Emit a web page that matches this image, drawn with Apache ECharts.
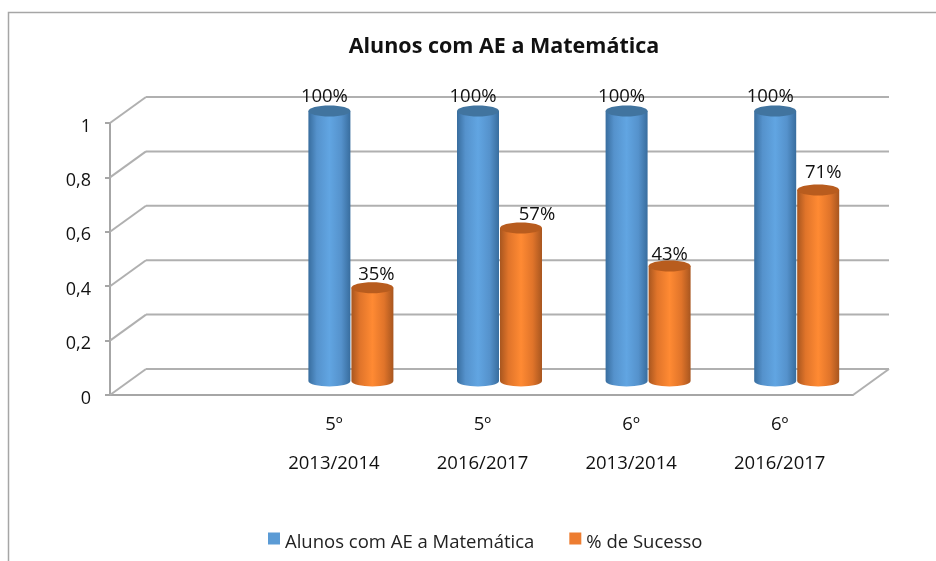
<!DOCTYPE html>
<html><head><meta charset="utf-8">
<style>html,body{margin:0;padding:0;background:#fff}#c{width:936px;height:561px}</style>
<script src="https://cdn.jsdelivr.net/npm/echarts@6/dist/echarts.min.js"></script>
</head><body><div id="c"></div>
<script>
var grades = ['', '5º', '5º', '6º', '6º'];
var years = ['', '2013/2014', '2016/2017', '2013/2014', '2016/2017'];
var alunos = [null, 1, 1, 1, 1];
var sucesso = [null, 0.35, 0.57, 0.43, 0.71];
var ticks = [0, 0.2, 0.4, 0.6, 0.8, 1];
var FONT = '"Open Sans", "Noto Sans", sans-serif';
var DEPTH = [36, -26], MID = [18, -12], HALF = 21.5, RY = 5.5;
var categories = grades.map(function (g, i) { return g ? g + '\n' + years[i] : ''; });
var alunosNudge = [null, [-5, -14], [-5, -14], [-5, -14], [-5, -14]];
var sucessoNudge = [null, [4, -13], [16, -13], [0, -11], [5, -17]];

function pairs(arr) {
  return arr.map(function (v, i) { return [i, v]; }).filter(function (d) { return d[1] !== null; });
}
function cylinder(side, dir, light, dark, top) {
  return function (params, api) {
    var i = api.value(0), v = api.value(1);
    var p = api.coord([i, v]), b = api.coord([i, 0]);
    var cx = p[0] + MID[0] + dir * HALF, w = HALF - 0.5;
    var yt = p[1] + MID[1], yb = b[1] + MID[1] - 2;
    var body = 'M' + (cx - w) + ' ' + yt + 'L' + (cx - w) + ' ' + yb +
      'C' + (cx - w) + ' ' + (yb + RY * 1.3) + ' ' + (cx + w) + ' ' + (yb + RY * 1.3) + ' ' + (cx + w) + ' ' + yb +
      'L' + (cx + w) + ' ' + yt + 'Z';
    return { type: 'group', children: [
      { type: 'path', shape: { pathData: body, layout: 'center',
          x: cx - w, y: yt, width: 2 * w, height: yb - yt + RY },
        style: { fill: { type: 'linear', x: 0, y: 0, x2: 1, y2: 0, colorStops: [
          { offset: 0, color: dark }, { offset: 0.2, color: side }, { offset: 0.5, color: light },
          { offset: 0.78, color: side }, { offset: 1, color: dark } ] } } },
      { type: 'ellipse', shape: { cx: cx, cy: yt, rx: w, ry: RY }, style: { fill: top } }
    ] };
  };
}
function labelFor(dir, nudges) {
  return function (params, api) {
    var i = api.value(0), v = api.value(1);
    var p = api.coord([i, v]), n = nudges[i];
    return { type: 'text', style: {
      x: p[0] + MID[0] + dir * HALF + n[0], y: p[1] + MID[1] + n[1],
      text: Math.round(v * 100) + '%', align: 'center', verticalAlign: 'middle',
      font: '18.5px ' + FONT, fill: '#111' } };
  };
}
function wallItem(params, api) {
  var v = api.value(0);
  var a = api.coord([0, v]), e = api.coord([categories.length - 1, v]);
  var half = api.size([1, 0])[0] / 2;
  var x0 = a[0] - half, x1 = e[0] + half, y = a[1];
  var line = { stroke: '#b0b0b0', lineWidth: 2 };
  var kids = [
    { type: 'line', shape: { x1: x0, y1: y, x2: x0 + DEPTH[0], y2: y + DEPTH[1] }, style: line },
    { type: 'line', shape: { x1: x0 + DEPTH[0], y1: y + DEPTH[1], x2: x1 + DEPTH[0], y2: y + DEPTH[1] }, style: line }
  ];
  if (v === 0) {
    kids.push({ type: 'line', shape: { x1: x1, y1: y, x2: x1 + DEPTH[0], y2: y + DEPTH[1] }, style: line });
  }
  return { type: 'group', children: kids };
}

var chart = echarts.init(document.getElementById('c'), null, { renderer: 'canvas' });
chart.setOption({
  animation: false,
  backgroundColor: '#fff',
  graphic: [{ type: 'rect', silent: true, z: -1,
    shape: { x: 8.5, y: 12.5, width: 1000, height: 700 },
    style: { fill: 'none', stroke: '#a6a6a6', lineWidth: 1.5 } }],
  title: { text: 'Alunos com AE a Matemática', left: 499, top: 31, textAlign: 'center',
    textStyle: { fontFamily: FONT, fontSize: 21.5, fontWeight: 'bold', color: '#111' } },
  legend: { bottom: 4, left: 263, itemWidth: 12, itemHeight: 12, itemGap: 35,
    icon: 'rect',
    formatter: function (n) { return '{a|' + n + '}'; },
    textStyle: { rich: { a: { fontFamily: FONT, fontSize: 18.5, color: '#222', padding: [8, 0, 0, 0] } } },
    data: [{ name: 'Alunos com AE a Matemática', itemStyle: { color: '#5b9bd5' } },
           { name: '% de Sucesso', itemStyle: { color: '#ed7d31' } }] },
  grid: { left: 110, top: 123, width: 743, height: 272 },
  xAxis: { type: 'category', data: categories,
    axisLine: { lineStyle: { color: '#a6a6a6', width: 2 } }, axisTick: { show: false },
    axisLabel: { interval: 0, margin: 10, fontFamily: FONT, fontSize: 18.5, color: '#111', lineHeight: 39, padding: [0, 0, 0, 2] } },
  yAxis: { type: 'value', min: 0, max: 1, interval: 0.2,
    axisLine: { show: true, lineStyle: { color: '#a6a6a6', width: 2 } },
    axisTick: { show: true, length: 5, lineStyle: { color: '#a6a6a6', width: 2 } },
    splitLine: { show: false },
    axisLabel: { margin: 19,
      formatter: function (v) { return '{a|' + String(v).replace('.', ',') + '}'; },
      rich: { a: { fontFamily: FONT, fontSize: 18, color: '#111', padding: [7, 0, 0, 0] } } } },
  series: [
    { type: 'custom', name: 'wall', z: 1, silent: true,
      encode: { y: 0 }, data: ticks.map(function (t) { return [t]; }), renderItem: wallItem },
    { type: 'custom', name: 'Alunos com AE a Matemática', z: 3, itemStyle: { color: '#5b9bd5' },
      encode: { x: 0, y: 1 }, data: pairs(alunos),
      renderItem: cylinder('#5592cc', -1, '#61a5e2', '#386d9e', '#41749f') },
    { type: 'custom', name: '% de Sucesso', z: 4, itemStyle: { color: '#ed7d31' },
      encode: { x: 0, y: 1 }, data: pairs(sucesso),
      renderItem: cylinder('#e0742a', 1, '#ff8a33', '#a8561f', '#b85c1e') },
    { type: 'custom', name: 'l1', z: 5, silent: true, encode: { x: 0, y: 1 },
      data: pairs(alunos), renderItem: labelFor(-1, alunosNudge) },
    { type: 'custom', name: 'l2', z: 5, silent: true, encode: { x: 0, y: 1 },
      data: pairs(sucesso), renderItem: labelFor(1, sucessoNudge) }
  ]
});
</script></body></html>
